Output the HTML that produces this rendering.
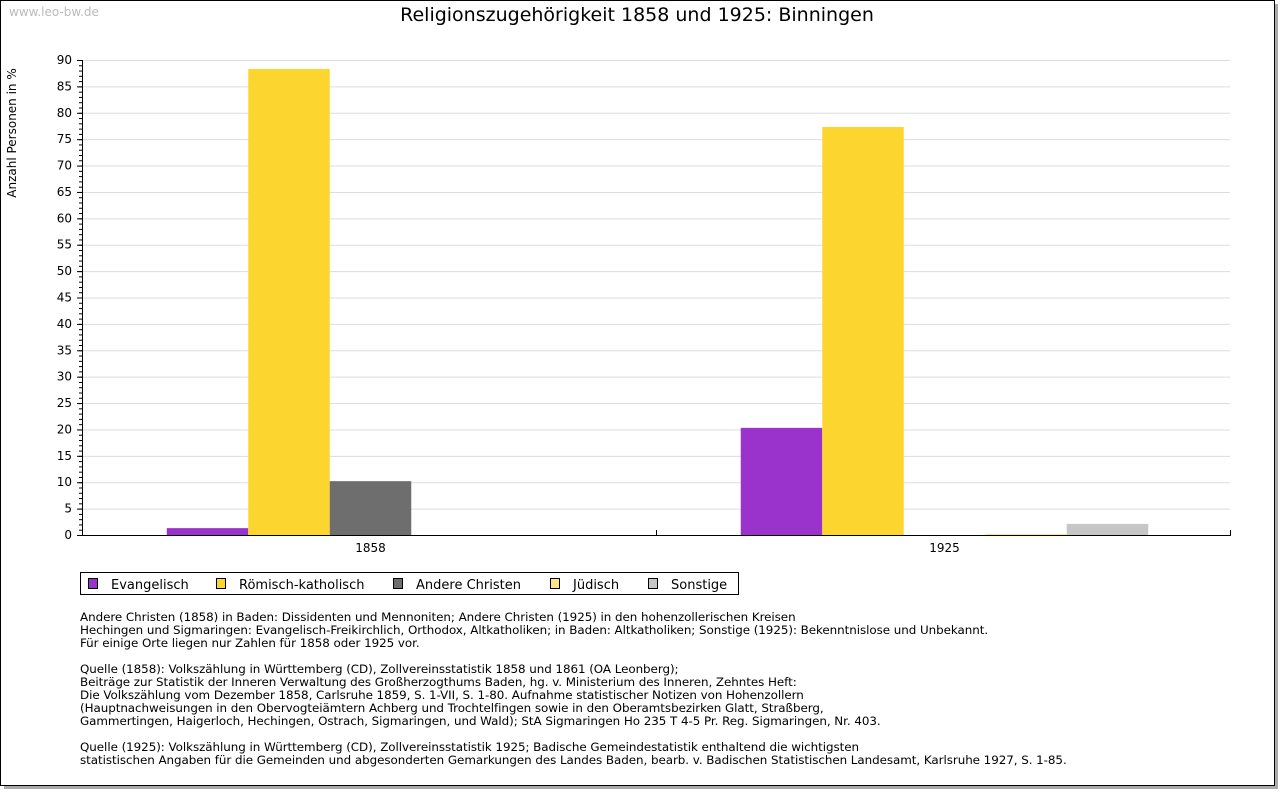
<!DOCTYPE html>
<html><head><meta charset="utf-8"><style>
body{margin:0;background:#fff;width:1280px;height:791px;overflow:hidden;font-family:"DejaVu Sans","Liberation Sans",sans-serif}
svg text{font-family:"DejaVu Sans","Liberation Sans",sans-serif}
</style></head><body>
<svg id="chart" width="1280" height="791" xmlns="http://www.w3.org/2000/svg">
<rect x="4" y="4" width="1274" height="785" fill="#aaa"/>
<rect x="0.5" y="0.5" width="1274" height="785" fill="#fff" stroke="#000"/>
<text x="9" y="16" font-size="12" fill="#bbb">www.leo-bw.de</text>
<text x="637" y="21" font-size="19" text-anchor="middle">Religionszugehörigkeit 1858 und 1925: Binningen</text>
<text transform="translate(16,133) rotate(-90)" font-size="12" text-anchor="middle">Anzahl Personen in %</text>
<g id="grid"></g><g id="bars"></g><g id="axes"></g>
<g>
<rect x="80.5" y="572.5" width="658" height="22" fill="#fff" stroke="#000"/>
<g id="legend"></g></g>
<g font-size="11.9" letter-spacing="-0.05">
<text x="80" y="621">Andere Christen (1858) in Baden: Dissidenten und Mennoniten; Andere Christen (1925) in den hohenzollerischen Kreisen</text>
<text x="80" y="634">Hechingen und Sigmaringen: Evangelisch-Freikirchlich, Orthodox, Altkatholiken; in Baden: Altkatholiken; Sonstige (1925): Bekenntnislose und Unbekannt.</text>
<text x="80" y="647">Für einige Orte liegen nur Zahlen für 1858 oder 1925 vor.</text>
<text x="80" y="673">Quelle (1858): Volkszählung in Württemberg (CD), Zollvereinsstatistik 1858 und 1861 (OA Leonberg);</text>
<text x="80" y="686">Beiträge zur Statistik der Inneren Verwaltung des Großherzogthums Baden, hg. v. Ministerium des Inneren, Zehntes Heft:</text>
<text x="80" y="699">Die Volkszählung vom Dezember 1858, Carlsruhe 1859, S. 1-VII, S. 1-80. Aufnahme statistischer Notizen von Hohenzollern</text>
<text x="80" y="712">(Hauptnachweisungen in den Obervogteiämtern Achberg und Trochtelfingen sowie in den Oberamtsbezirken Glatt, Straßberg,</text>
<text x="80" y="725">Gammertingen, Haigerloch, Hechingen, Ostrach, Sigmaringen, und Wald); StA Sigmaringen Ho 235 T 4-5 Pr. Reg. Sigmaringen, Nr. 403.</text>
<text x="80" y="751">Quelle (1925): Volkszählung in Württemberg (CD), Zollvereinsstatistik 1925; Badische Gemeindestatistik enthaltend die wichtigsten</text>
<text x="80" y="764">statistischen Angaben für die Gemeinden und abgesonderten Gemarkungen des Landes Baden, bearb. v. Badischen Statistischen Landesamt, Karlsruhe 1927, S. 1-85.</text>
</g>
</svg>
<script>
const categories=["1858","1925"];
const seriesNames=["Evangelisch","Römisch-katholisch","Andere Christen","Jüdisch","Sonstige"];
const seriesColors=["#9933cc","#fdd52f","#6e6e6e","#ffe68a","#c6c6c6"];
const evangelisch=[1.3,20.3];
const katholisch=[88.3,77.3];
const andere=[10.2,0];
const juedisch=[0,0.2];
const sonstige=[0,2.1];
const yTicks=[0,5,10,15,20,25,30,35,40,45,50,55,60,65,70,75,80,85,90];
const NS="http://www.w3.org/2000/svg";
const X0=82,X1=1230,Y0=535,Y1=60,YMAX=90;
const y=v=>Y0-(v/YMAX)*(Y0-Y1);
const catW=(X1-X0)/categories.length;
const barW=81.5;
function mk(t,a,p){const e=document.createElementNS(NS,t);for(const k in a)e.setAttribute(k,a[k]);p.appendChild(e);return e;}
const grid=document.getElementById('grid'),bars=document.getElementById('bars'),axes=document.getElementById('axes'),leg=document.getElementById('legend');
yTicks.forEach(t=>{
 if(t>0){const l=mk('line',{x1:X0,x2:X1,y1:y(t)+.5,y2:y(t)+.5,stroke:'#ddd'},grid);
 
 }
 const tx=mk('text',{x:72,y:y(t)+4,'font-size':12,'text-anchor':'end'},axes);tx.textContent=t;
 
 
 mk('line',{x1:X0-5,x2:X0,y1:y(t)+.5,y2:y(t)+.5,stroke:'#000'},axes);
});
for(let v=0;v<YMAX;v++){mk('line',{x1:X0-3,x2:X0,y1:y(v)+.5,y2:y(v)+.5,stroke:'#000'},axes);}
const all=[evangelisch,katholisch,andere,juedisch,sonstige];
categories.forEach((c,i)=>{
 const cx=X0+catW*(i+.5)+1.5;const start=cx-barW*all.length/2;
 all.forEach((s,j)=>{const v=s[i];if(v<=0)return;
  const r=mk('rect',{x:start+j*barW,y:y(v),width:barW,height:Y0-y(v),fill:seriesColors[j]},bars);
  
  });
 const t=mk('text',{x:cx,y:552,'font-size':12,'text-anchor':'middle'},axes);t.textContent=c;
 
 
 mk('line',{x1:X0+catW*(i+1)+.5,x2:X0+catW*(i+1)+.5,y1:Y0-5,y2:Y0,stroke:'#000'},axes);
});
mk('line',{x1:X0+.5,x2:X0+.5,y1:Y1,y2:Y0,stroke:'#000'},axes);
mk('line',{x1:X0,x2:X1+1,y1:Y0+.5,y2:Y0+.5,stroke:'#000'},axes);
const lx=[88,216,393,550,648];
seriesNames.forEach((n,j)=>{
 mk('rect',{x:lx[j]+.5,y:578.5,width:9,height:10,fill:seriesColors[j],stroke:'#000'},leg);
 const t=mk('text',{x:lx[j]+23,y:589,'font-size':13},leg);t.textContent=n;
 
 
});
</script>
</body></html>
